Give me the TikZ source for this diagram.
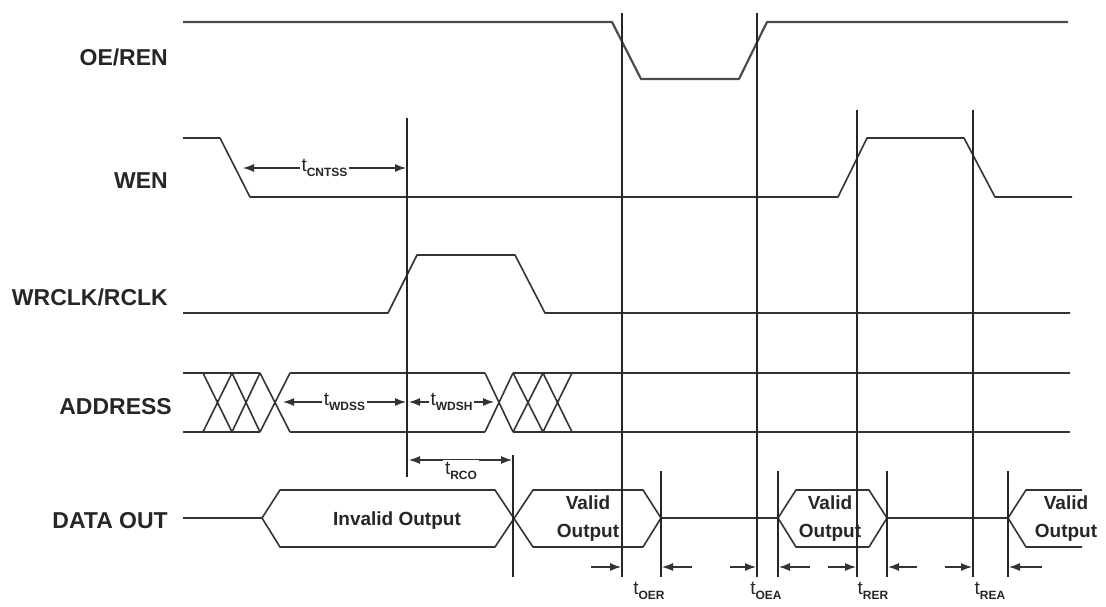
\documentclass[tikz,border=0pt]{standalone}
\usepackage{fontspec}
\setmainfont{Liberation Sans}
\usepackage{tikz}
\usetikzlibrary{arrows.meta,positioning,calc}
\tikzset{
    wave/.style={draw=black!80, line width=1.6pt, line join=round},
    guide/.style={draw=black!85, line width=1.4pt},
    timing/.style={draw=black!80, line width=1.2pt, {Latex[length=11pt,width=8pt]}-{Latex[length=11pt,width=8pt]}},
    onearrow/.style={draw=black!80, line width=1.2pt, -{Latex[length=11pt,width=8pt]}},
    signame/.style={anchor=east, inner sep=0pt, text=black!85, font=\fontsize{23}{26}\selectfont\bfseries},
    datatext/.style={align=center, inner sep=0pt, text=black!85, font=\fontsize{19}{28}\selectfont\bfseries},
    tlabel/.style={fill=white, inner sep=2pt, text=black!85, font=\fontsize{19}{20}\selectfont}
}
\newcommand{\tsym}[1]{t\raisebox{-5pt}{\fontsize{12}{12}\selectfont\bfseries #1}}

\begin{document}
\begin{tikzpicture}[x=1pt, y=-1pt]
    \useasboundingbox (0,0) rectangle (1106,607);

    % Signal names
    \node [signame] (oeren) at (168,57) {OE/REN};
    \node [signame] (wen) at (168,181) {WEN};
    \node [signame] (wrclk) at (168,297) {WRCLK/RCLK};
    \node [signame] (address) at (172,407) {ADDRESS};
    \node [signame] (dataout) at (168,521) {DATA OUT};

    % OE/REN
    \draw [wave, line width=2.2pt, draw=black!70] (183,22) -- (612,22) -- (641,79) -- (739,79) -- (767,22) -- (1068,22);

    % WEN
    \draw [wave] (183,138) -- (220,138) -- (250,197) -- (838,197) -- (867,138) -- (964,138) -- (995,197) -- (1072,197);

    % WRCLK/RCLK
    \draw [wave] (183,313) -- (388,313) -- (417,255) -- (515,255) -- (545,313) -- (1070,313);

    % ADDRESS
    \foreach \ya in {373,432} {
        \draw [wave] (183,\ya) -- (260,\ya);
        \draw [wave] (290,\ya) -- (485,\ya);
        \draw [wave] (513,\ya) -- (1070,\ya);
    }
    \foreach \xa/\xb in {203/232, 232/260, 260/290, 485/513, 513/543, 543/572}
        \draw [wave] (\xa,373) -- (\xb,432) (\xa,432) -- (\xb,373);

    % DATA OUT
    \draw [wave] (183,518) -- (262,518) -- (280,490) -- (495,490) -- (533,547) -- (643,547) -- (661,518) -- (778,518) -- (796,490) -- (869,490) -- (887,518) -- (1008,518) -- (1026,490) -- (1082,490);
    \draw [wave] (262,518) -- (280,547) -- (495,547) -- (533,490) -- (643,490) -- (661,518);
    \draw [wave] (778,518) -- (796,547) -- (869,547) -- (887,518);
    \draw [wave] (1008,518) -- (1026,547) -- (1082,547);

    \node [datatext] (invalid) at (397,521) {Invalid Output};
    \node [datatext] (valid1) at (588,519) {Valid\\Output};
    \node [datatext] (valid2) at (830,519) {Valid\\Output};
    \node [datatext] (valid3) at (1066,519) {Valid\\Output};

    % Reference lines
    \draw [guide] (407,118) -- (407,477);
    \draw [guide] (513,455) -- (513,577);
    \draw [guide] (622,13) -- (622,577);
    \draw [guide] (757,13) -- (757,577);
    \draw [guide] (857,110) -- (857,577);
    \draw [guide] (973,110) -- (973,577);
    \foreach \xg in {661,778,887,1008}
        \draw [guide] (\xg,471) -- (\xg,577);

    % Timing arrows
    \coordinate (cntssA) at (243,168);
    \coordinate (cntssB) at (406,168);
    \draw [timing] (cntssA) -- node [tlabel] (tcntss) {\tsym{CNTSS}} (cntssB);

    \coordinate (wdssA) at (283,402);
    \coordinate (wdssB) at (406,402);
    \coordinate (wdshA) at (409,402);
    \coordinate (wdshB) at (494,402);
    \draw [timing] (wdssA) -- node [tlabel] (twdss) {\tsym{WDSS}} (wdssB);
    \draw [timing] (wdshA) -- node [tlabel] (twdsh) {\tsym{WDSH}} (wdshB);

    \coordinate (rcoA) at (409,460);
    \coordinate (rcoB) at (512,460);
    \draw [timing] (rcoA) -- (rcoB);
    \node [tlabel] (trco) at (461,471) {\tsym{RCO}};

    % Enable / disable times
    \foreach \xs/\xe/\nm in {591/621/oerA, 692/662/oerB, 730/756/oeaA, 810/779/oeaB, 828/856/rerA, 917/888/rerB, 945/972/reaA, 1042/1009/reaB} {
        \coordinate (\nm s) at (\xs,567);
        \coordinate (\nm e) at (\xe,567);
        \draw [onearrow] (\nm s) -- (\nm e);
    }
    \node [tlabel, fill=none] (toer) at (649,591) {\tsym{OER}};
    \node [tlabel, fill=none] (toea) at (766,591) {\tsym{OEA}};
    \node [tlabel, fill=none] (trer) at (873,591) {\tsym{RER}};
    \node [tlabel, fill=none] (trea) at (990,591) {\tsym{REA}};
\end{tikzpicture}
\end{document}
